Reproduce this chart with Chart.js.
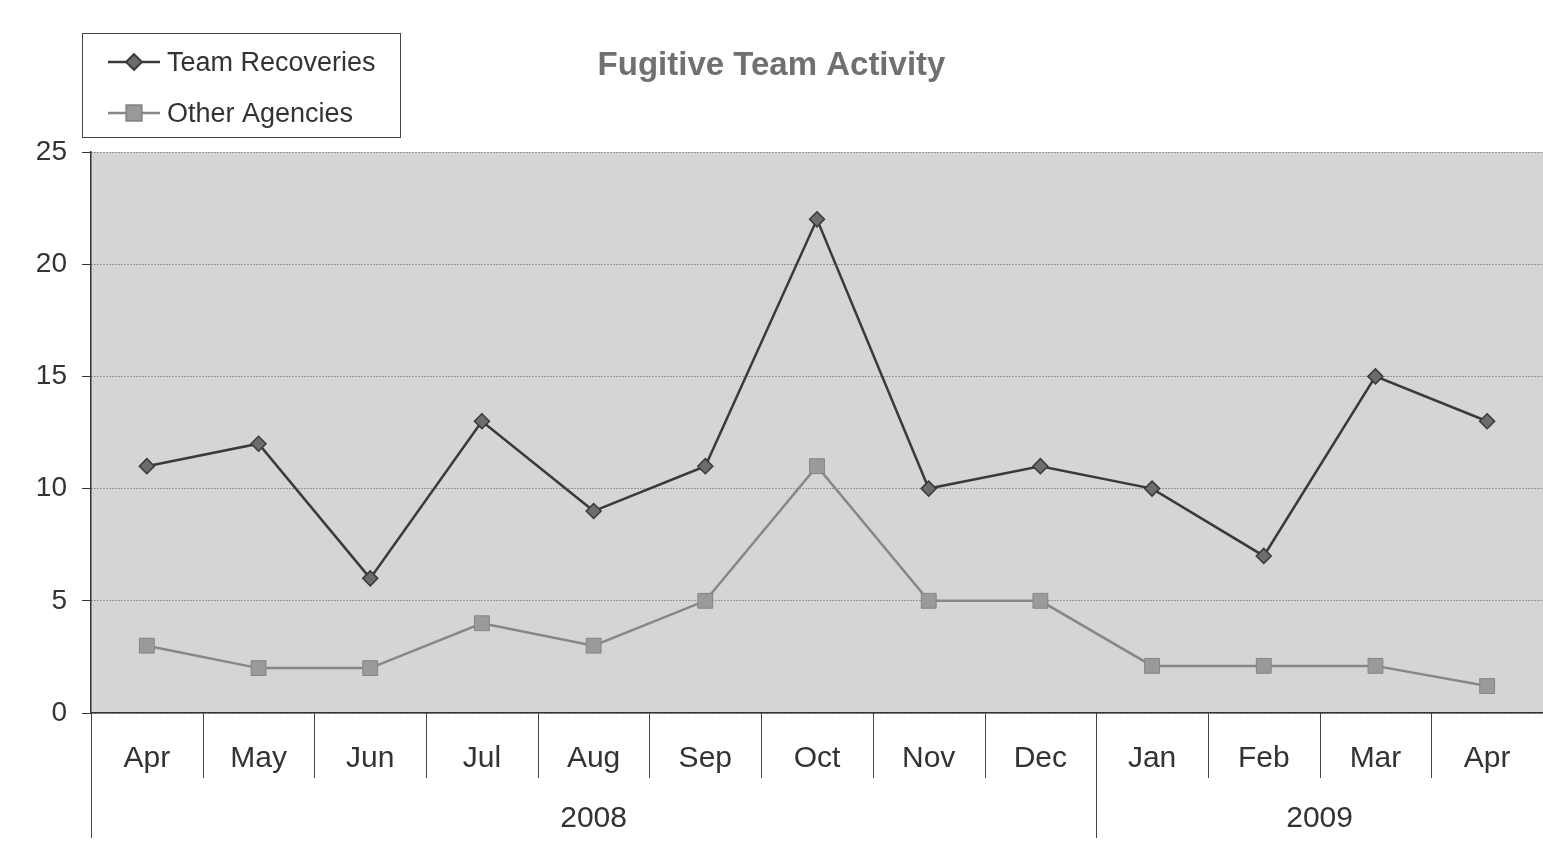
<!DOCTYPE html>
<html>
<head>
<meta charset="utf-8">
<script src="https://cdn.jsdelivr.net/npm/chart.js@4.4.0/dist/chart.umd.min.js"></script>
<style>
  html, body { margin: 0; padding: 0; background: #fff; }
  #wrap { width: 1543px; height: 852px; }
</style>
</head>
<body>
<div id="wrap"><canvas id="myChart" width="1543" height="852"></canvas></div>
<script>
const meses = ["Apr", "May", "Jun", "Jul", "Aug", "Sep", "Oct", "Nov", "Dec", "Jan", "Feb", "Mar", "Apr"];
const anios = ["2008", "2009"];
const mesesPorAnio = [9, 4];

const recuperaciones = [11, 12, 6, 13, 9, 11, 22, 10, 11, 10, 7, 15, 13];
const otrasAgencias = [3, 2, 2, 4, 3, 5, 11, 5, 5, 2.1, 2.1, 2.1, 1.2];

const marcasY = [0, 5, 10, 15, 20, 25];

const fuente = "Arial, 'Liberation Sans', sans-serif";

// fondo gris del area de trazado
const fondoPlot = {
    id: 'fondoPlot',
    beforeDraw(chart) {
        const { ctx, chartArea: a } = chart;
        ctx.save();
        ctx.fillStyle = '#d5d5d5';
        ctx.fillRect(a.left, a.top, a.right - a.left, a.bottom - a.top);
        ctx.restore();
    }
};

// eje de dos niveles: separadores de meses y etiquetas de anio
const ejeAnios = {
    id: 'ejeAnios',
    afterDraw(chart) {
        const { ctx, chartArea: a } = chart;
        const x = chart.scales.x;
        const paso = x.getPixelForValue(1) - x.getPixelForValue(0);
        ctx.save();
        ctx.strokeStyle = '#444';
        ctx.lineWidth = 1;
        // separadores de meses
        for (let i = 1; i < meses.length; i++) {
            const px = Math.round(x.getPixelForValue(i) - paso / 2) + 0.5;
            ctx.beginPath();
            ctx.moveTo(px, a.bottom);
            ctx.lineTo(px, a.bottom + 65);
            ctx.stroke();
        }
        // separadores de anios y etiquetas
        let inicio = 0;
        ctx.font = "30px " + fuente;
        ctx.fillStyle = '#333';
        ctx.textAlign = 'center';
        ctx.textBaseline = 'middle';
        anios.forEach((anio, k) => {
            const fin = inicio + mesesPorAnio[k];
            const x0 = x.getPixelForValue(inicio) - paso / 2;
            const x1 = x.getPixelForValue(fin - 1) + paso / 2;
            const px = Math.round(x0) + 0.5;
            ctx.beginPath();
            ctx.moveTo(px, a.bottom);
            ctx.lineTo(px, a.bottom + 125);
            ctx.stroke();
            ctx.fillText(anio, (x0 + x1) / 2, a.bottom + 106);
            inicio = fin;
        });
        ctx.restore();
    }
};

// leyenda en caja, arriba a la izquierda
const leyendaCaja = {
    id: 'leyendaCaja',
    afterDraw(chart) {
        const ctx = chart.ctx;
        ctx.save();
        ctx.strokeStyle = '#444';
        ctx.lineWidth = 1;
        ctx.strokeRect(82.5, 33.5, 318, 104);
        ctx.font = "27px " + fuente;
        ctx.textBaseline = 'middle';
        ctx.textAlign = 'left';
        chart.data.datasets.forEach((ds, i) => {
            const y = 62 + i * 51;
            ctx.strokeStyle = ds.borderColor;
            ctx.lineWidth = ds.borderWidth;
            ctx.beginPath();
            ctx.moveTo(108, y);
            ctx.lineTo(160, y);
            ctx.stroke();
            Chart.helpers.drawPoint(ctx, {
                pointStyle: ds.pointStyle,
                radius: ds.pointRadius,
                borderWidth: ds.pointBorderWidth,
                rotation: 0
            }, 134, y);
            ctx.fillStyle = ds.pointBackgroundColor;
            ctx.strokeStyle = ds.pointBorderColor;
            ctx.lineWidth = ds.pointBorderWidth;
            ctx.fill();
            ctx.stroke();
            ctx.fillStyle = '#333';
            ctx.fillText(ds.label, 167, y + 2);
        });
        ctx.restore();
    }
};

new Chart(document.querySelector('#myChart'), {
    type: 'line',
    data: {
        labels: meses,
        datasets: [
            {
                label: 'Team Recoveries',
                data: recuperaciones,
                borderColor: '#3a3a3a',
                borderWidth: 2.5,
                pointStyle: 'rectRot',
                pointRadius: 7.5,
                pointBackgroundColor: '#6c6c6c',
                pointBorderColor: '#3a3a3a',
                pointBorderWidth: 1.5,
                tension: 0
            },
            {
                label: 'Other Agencies',
                data: otrasAgencias,
                borderColor: '#878787',
                borderWidth: 2.5,
                pointStyle: 'rect',
                pointRadius: 10.5,
                pointBackgroundColor: '#9a9a9a',
                pointBorderColor: '#858585',
                pointBorderWidth: 1,
                tension: 0
            }
        ]
    },
    options: {
        responsive: false,
        animation: false,
        layout: { autoPadding: false, padding: { left: 0, right: 0, top: 0, bottom: 0 } },
        plugins: {
            legend: { display: false },
            tooltip: { enabled: false },
            title: {
                display: true,
                text: 'Fugitive Team Activity',
                color: '#707070',
                font: { family: fuente, size: 33, weight: 'bold', lineHeight: 1.2 },
                padding: { top: 46, bottom: 66.4 }
            }
        },
        scales: {
            x: {
                offset: true,
                grid: { display: false },
                border: { display: true, color: '#333', width: 1.5 },
                ticks: {
                    color: '#333',
                    font: { family: fuente, size: 30 },
                    padding: 20,
                    maxRotation: 0,
                    autoSkip: false
                },
                afterFit(scale) {
                    scale.height = 139;
                    scale.paddingLeft = 0;
                    scale.paddingRight = 0;
                }
            },
            y: {
                min: 0,
                max: 25,
                afterBuildTicks(scale) { scale.ticks = marcasY.map(v => ({ value: v })); },
                grid: {
                    color: '#555',
                    lineWidth: 1,
                    tickLength: 9,
                    tickColor: '#333',
                    tickBorderDash: []
                },
                border: { display: true, color: '#333', width: 1.5, dash: [1, 2] },
                ticks: {
                    color: '#333',
                    font: { family: fuente, size: 28 },
                    padding: 15
                },
                afterFit(scale) { scale.width = 91; }
            }
        }
    },
    plugins: [fondoPlot, ejeAnios, leyendaCaja]
});
</script>
</body>
</html>
